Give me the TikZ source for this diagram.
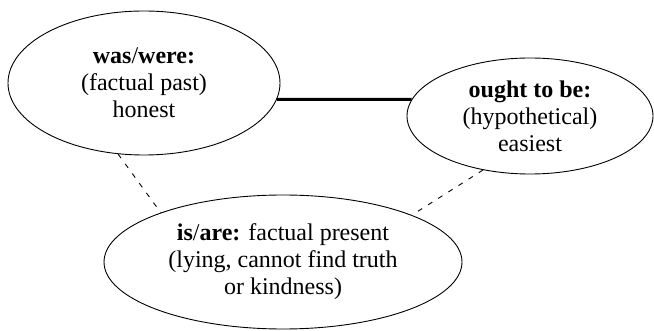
\documentclass[tikz,border=0pt]{standalone}
\usepackage{fontspec}
\setmainfont{Liberation Serif}
\usetikzlibrary{shapes.geometric}
\begin{document}
\begin{tikzpicture}[x=1pt,y=-1pt,
  bubble/.style={ellipse, draw, line width=0.9pt, inner sep=0pt, align=center,
    font=\fontsize{24}{27}\selectfont},
  strong/.style={line width=3pt},
  weak/.style={line width=0.9pt, dash pattern=on 5pt off 7pt}]
\useasboundingbox (0,0) rectangle (654,331);
% the three tenses, each in its own ellipse
\node[bubble, minimum width=272pt, minimum height=144pt] (was) at (144,83)
  {\textbf{was}/\textbf{were:}\\(factual past)\\honest};
\node[bubble, minimum width=246pt, minimum height=116pt] (ought) at (530,116)
  {\textbf{ought to be:}\\(hypothetical)\\easiest};
\node[bubble, minimum width=358pt, minimum height=134pt] (is) at (283,262)
  {\textbf{is}/\textbf{are:} factual present\\(lying, cannot find truth\\or kindness)};
% links between them
\draw[strong] (was.-7.8) -- (ought.172.8);
\draw[weak] (was.-110.3) -- (is.158.5);
\draw[weak] (ought.-131.3) -- (is.20);
\end{tikzpicture}
\end{document}
